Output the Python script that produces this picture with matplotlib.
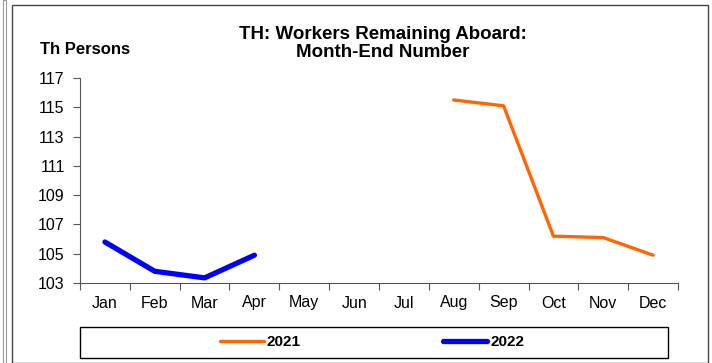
import matplotlib.pyplot as plt
import numpy as np
from matplotlib.patches import Rectangle

plt.rcParams['font.family'] = ['Liberation Sans', 'DejaVu Sans']

months = ["Jan", "Feb", "Mar", "Apr", "May", "Jun",
          "Jul", "Aug", "Sep", "Oct", "Nov", "Dec"]
nan = np.nan
y2021 = [nan, nan, nan, nan, nan, nan, nan, 115.5, 115.1, 106.2, 106.1, 104.9]
y2022 = [105.8, 103.8, 103.35, 104.9, nan, nan, nan, nan, nan, nan, nan, nan]
yticks = [103, 105, 107, 109, 111, 113, 115, 117]

fig = plt.figure(figsize=(7.12, 3.63), dpi=100)
ax = fig.add_axes([80 / 712, 1 - 283 / 363, 598 / 712, 205 / 363])

x = np.arange(len(months))
ax.plot(x, y2021, color="#FF6600", lw=2.4, label="2021", solid_capstyle="round")
ax.plot(x, y2022, color="#0000FF", lw=3.8, label="2022", solid_capstyle="round")

ax.set_xlim(-0.5, 11.5)
ax.set_ylim(103, 117)
ax.set_yticks(yticks)
ax.set_yticklabels([str(v) for v in yticks], fontsize=11.5)
ax.set_xticks(np.arange(-0.5, 12, 1))
ax.set_xticklabels([])
ax.set_xticks(x, minor=True)
ax.set_xticklabels(months, minor=True, fontsize=11.5)
ax.tick_params(axis="x", which="major", length=5, direction="out", color="#555555")
ax.tick_params(axis="x", which="minor", length=0, pad=9)
ax.tick_params(axis="y", length=5, direction="out", color="#555555", pad=6)
for s in ["top", "right"]:
    ax.spines[s].set_visible(False)
for s in ["left", "bottom"]:
    ax.spines[s].set_color("#555555")

fig.text(383 / 712, 1 - 43.5 / 363, "TH: Workers Remaining Aboard:\nMonth-End Number",
         ha="center", va="center", fontsize=13.5, fontweight="bold", linespacing=1.12)
fig.text(40 / 712, 1 - 49.5 / 363, "Th Persons", ha="left", va="center",
         fontsize=12, fontweight="bold")

# legend box drawn separately, legend entries without frame
fig.patches.append(Rectangle((80 / 712, 1 - 358 / 363), 588 / 712, 31 / 363,
                             transform=fig.transFigure, fill=False, edgecolor="black", lw=1))
leg = ax.legend(loc="center", bbox_to_anchor=(372 / 712, 1 - 342 / 363), bbox_transform=fig.transFigure,
                ncol=2, frameon=False, prop={"weight": "bold", "size": 11},
                columnspacing=9.3, handlelength=2.9, handletextpad=0.2)

fig.patches.append(Rectangle((12 / 712, 0), 696 / 712, 1 - 5 / 363, transform=fig.transFigure,
                             fill=False, edgecolor="#444444", lw=1))
fig.patches.append(Rectangle((3 / 712, 0), 3 / 712, 1, transform=fig.transFigure,
                             fill=False, edgecolor="#999999", lw=0.8))

fig.savefig("out.png", dpi=100)
